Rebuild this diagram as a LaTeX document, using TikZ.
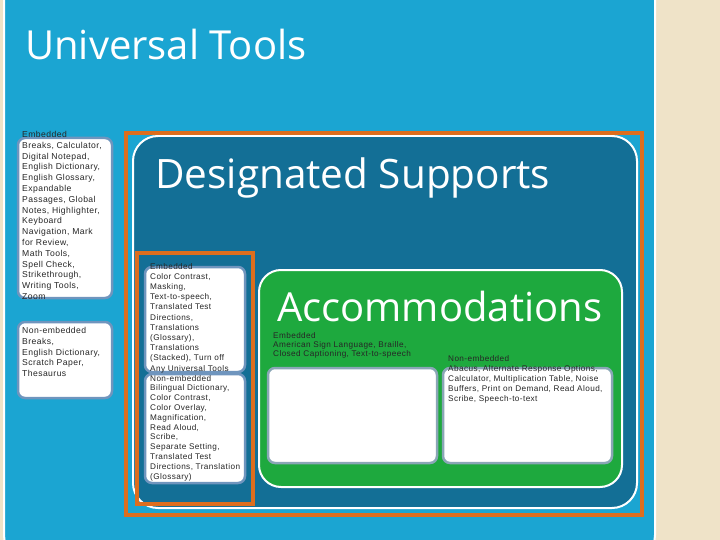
\documentclass[tikz,border=0pt]{standalone}
\usepackage{fontspec}
\setmainfont{Liberation Sans}[LetterSpace=5]
\newfontfamily\titlefont{Open Sans}
\definecolor{beige}{HTML}{EFE3C8}
\definecolor{ubl}{HTML}{1BA5D2}
\definecolor{dteal}{HTML}{136F96}
\definecolor{orng}{HTML}{DD6E1E}
\definecolor{grn}{HTML}{1EA93E}
\definecolor{bbord}{HTML}{6F95BE}
\definecolor{gbord}{HTML}{8AA6B6}
\tikzset{x=1pt,y=-1pt,
 wbox/.style={fill=white,draw=bbord,line width=2.5pt,rounded corners=7pt},
 gbox/.style={fill=white,draw=gbord,line width=2.5pt,rounded corners=7pt},
 small/.style={anchor=north west,inner sep=0pt,align=left,font=\fontsize{8.6}{10.8}\selectfont,text=black!85},
 title/.style={anchor=west,inner sep=0pt,text=white,font=\titlefont}}
\begin{document}
\begin{tikzpicture}
\useasboundingbox (0,0) rectangle (720,540);
\fill[beige] (0,0) rectangle (720,540);
\fill[ubl,draw=white,line width=2pt,rounded corners=25pt] (4,-30) rectangle (655,560);
\node[title,font=\titlefont\fontsize{40}{44}\selectfont] (ut) at (25,45) {Universal Tools};
% universal boxes
\draw[wbox] (18,138) rectangle (112,298);
\node[small] (ute) at (22,131) {Embedded\\Breaks, Calculator,\\Digital Notepad,\\English Dictionary,\\English Glossary,\\Expandable\\Passages, Global\\Notes, Highlighter,\\Keyboard\\Navigation, Mark\\for Review,\\Math Tools,\\Spell Check,\\Strikethrough,\\Writing Tools,\\Zoom};
\draw[wbox] (18,322) rectangle (112,398);
\node[small] (utn) at (22,327) {Non-embedded\\Breaks,\\English Dictionary,\\Scratch Paper,\\Thesaurus};
% designated
\fill[dteal,draw=white,line width=2pt,rounded corners=25pt] (133,136) rectangle (637,508);
\draw[orng,line width=3.5pt] (126,133) rectangle (642,515);
\node[title,font=\titlefont\fontsize{40.5}{44}\selectfont] (ds) at (155,178) {Designated Supports};
\draw[orng,line width=3.5pt] (137,253) rectangle (253,504);
\draw[wbox] (145,267) rectangle (245,372);
\node[small,font=\fontsize{8.2}{10.2}\selectfont] (dse) at (150,263) {Embedded\\Color Contrast,\\Masking,\\Text-to-speech,\\Translated Test\\Directions,\\Translations\\(Glossary),\\Translations\\(Stacked), Turn off\\Any Universal Tools};
\draw[wbox] (145,374) rectangle (245,483);
\node[small,font=\fontsize{8.2}{9.8}\selectfont] (dsn) at (150,375) {Non-embedded\\Bilingual Dictionary,\\Color Contrast,\\Color Overlay,\\Magnification,\\Read Aloud,\\Scribe,\\Separate Setting,\\Translated Test\\Directions, Translation\\(Glossary)};
% accommodations
\fill[grn,draw=white,line width=2pt,rounded corners=22pt] (259,270) rectangle (622,487);
\node[title,font=\titlefont\fontsize{40}{44}\selectfont] (ac) at (277,306) {Accommodations};
\draw[gbox] (268,368) rectangle (437,463);
\draw[gbox] (443,368) rectangle (612,463);
\node[small,font=\fontsize{8.2}{9.3}\selectfont] (ace) at (273,332) {Embedded\\American Sign Language, Braille,\\Closed Captioning, Text-to-speech};
\node[small,font=\fontsize{8.2}{10}\selectfont] (acn) at (448,355) {Non-embedded\\Abacus, Alternate Response Options,\\Calculator, Multiplication Table, Noise\\Buffers, Print on Demand, Read Aloud,\\Scribe, Speech-to-text};
\end{tikzpicture}
\end{document}
